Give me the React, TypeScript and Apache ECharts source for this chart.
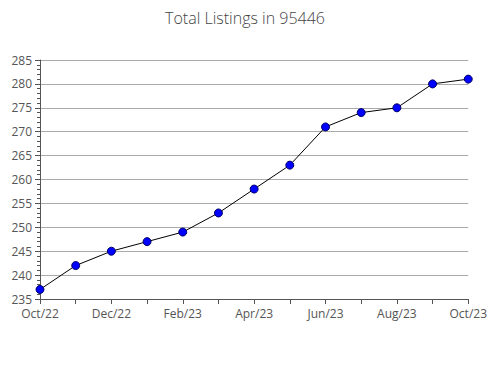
import React, { useEffect, useRef } from "react";
import * as echarts from "echarts";

const months = ["Oct/22", "Nov/22", "Dec/22", "Jan/23", "Feb/23", "Mar/23", "Apr/23", "May/23", "Jun/23", "Jul/23", "Aug/23", "Sep/23", "Oct/23"];
const listings = [237, 242, 245, 247, 249, 253, 258, 263, 271, 274, 275, 280, 281];

export default function App() {
  const ref = useRef<HTMLDivElement>(null);
  useEffect(() => {
    if (!ref.current) return;
    const chart = echarts.init(ref.current, null, { renderer: "svg" });
    chart.setOption({
      animation: false,
      textStyle: { fontFamily: "Open Sans" },
      title: {
        text: "Total Listings in 95446",
        left: "center",
        top: 5,
        textStyle: { fontFamily: "Open Sans", fontSize: 16, fontWeight: 300, color: "#444" },
      },
      grid: { left: 40, right: 19, top: 60, bottom: 81 },
      xAxis: {
        type: "category",
        data: months,
        boundaryGap: false,
        axisLine: { lineStyle: { color: "#555" } },
        axisTick: { show: true, interval: 0, length: 5, lineStyle: { color: "#555" } },
        axisLabel: { interval: 1, color: "#555", fontSize: 12, margin: 6, lineHeight: 12, padding: [2, 0, 0, 0] },
        splitLine: { show: false },
      },
      yAxis: {
        type: "value",
        min: 235,
        max: 285,
        interval: 5,
        axisLine: { show: true, lineStyle: { color: "#555" } },
        axisTick: { show: true, length: 5, inside: false, lineStyle: { color: "#555" } },
        minorTick: { show: true, splitNumber: 5, length: 3, lineStyle: { color: "#555" } },
        axisLabel: { color: "#555", fontSize: 12, margin: 8, lineHeight: 12, padding: [0, 0, 4, 0] },
        splitLine: { show: true, lineStyle: { color: "#aaa" } },
      },
      series: [
        {
          type: "line",
          data: listings,
          symbol: "circle",
          symbolSize: 8,
          lineStyle: { color: "#000", width: 1 },
          itemStyle: { color: "#0000ff", borderColor: "#000066", borderWidth: 1 },
        },
      ],
    });
    return () => chart.dispose();
  }, []);
  return <div ref={ref} style={{ width: 490, height: 380, position: "absolute", left: 0, top: 0 }} />;
}
